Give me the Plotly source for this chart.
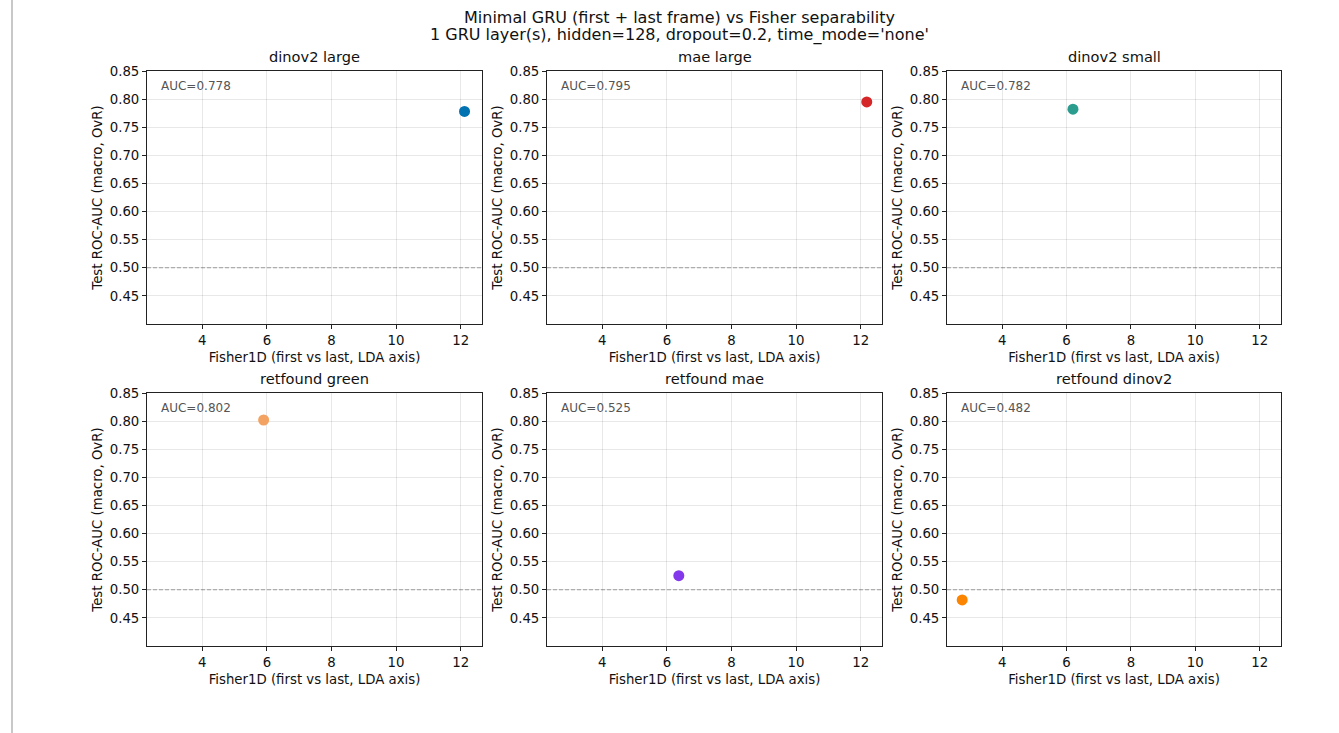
import plotly.graph_objects as go

# ---- data ----
models = ["dinov2 large", "mae large", "dinov2 small", "retfound green", "retfound mae", "retfound dinov2"]
fisher1d = [12.12, 12.19, 6.20, 5.90, 6.37, 2.76]
test_auc = [0.778, 0.795, 0.782, 0.802, 0.525, 0.482]
colors = ["#0072B2", "#D62728", "#2A9D8F", "#F4A261", "#8338EC", "#FB8500"]
x_ticks = [4, 6, 8, 10, 12]
y_ticks = [0.45, 0.50, 0.55, 0.60, 0.65, 0.70, 0.75, 0.80, 0.85]
suptitle_lines = ["Minimal GRU (first + last frame) vs Fisher separability",
                  "1 GRU layer(s), hidden=128, dropout=0.2, time_mode='none'"]

W, H = 1339, 733
FONT = "DejaVu Sans"

# axes boxes in pixels (left, right, top, bottom)
cols = [(147, 482), (547, 882), (947, 1281)]
rows = [(71, 324), (393, 646)]

span = max(fisher1d) - min(fisher1d)
xr = [min(fisher1d) - 0.05 * span, max(fisher1d) + 0.05 * span]
yr = [0.40, 0.85]

fig = go.Figure()
annotations = []
shapes = []

for i, name in enumerate(models):
    r, c = divmod(i, 3)
    x0, x1 = cols[c]
    t, b = rows[r]
    xa = "xaxis" if i == 0 else f"xaxis{i+1}"
    ya = "yaxis" if i == 0 else f"yaxis{i+1}"
    xref = "x" if i == 0 else f"x{i+1}"
    yref = "y" if i == 0 else f"y{i+1}"

    fig.add_trace(go.Scatter(
        x=[fisher1d[i]], y=[test_auc[i]], mode="markers",
        marker=dict(color=colors[i], size=11, line=dict(width=0)),
        xaxis=xref, yaxis=yref, showlegend=False, name=name,
    ))

    common = dict(
        showline=True, linecolor="#222", linewidth=1, mirror=True,
        ticks="outside", ticklen=4, tickwidth=1, tickcolor="#222",
        showgrid=True, gridcolor="rgba(0,0,0,0.09)", gridwidth=1,
        zeroline=False, automargin=False,
        tickfont=dict(family=FONT, size=13.3, color="#111"),
    )
    fig.update_layout({
        xa: dict(common, domain=[x0 / W, x1 / W], anchor=yref, range=xr,
                 tickvals=x_ticks, ticktext=[str(v) for v in x_ticks],
                 title=dict(text="Fisher1D (first vs last, LDA axis)",
                            font=dict(family=FONT, size=13.3, color="#111"), standoff=5)),
        ya: dict(common, domain=[1 - b / H, 1 - t / H], anchor=xref, range=yr,
                 tickvals=y_ticks, ticktext=[f"{v:.2f}" for v in y_ticks],
                 title=dict(text="Test ROC-AUC (macro, OvR)",
                            font=dict(family=FONT, size=13.3, color="#111"), standoff=4)),
    })

    # dashed chance line
    shapes.append(dict(type="line", xref=f"{xref} domain", yref=yref,
                       x0=0, x1=1, y0=0.5, y1=0.5,
                       line=dict(color="#aaaaaa", width=1, dash="4px,2px"), layer="below"))

    # AUC text
    annotations.append(dict(text=f"AUC={test_auc[i]:.3f}", xref=f"{xref} domain", yref=f"{yref} domain",
                            x=0.035, y=0.975, xanchor="left", yanchor="top", showarrow=False,
                            font=dict(family=FONT, size=12, color="#555")))
    # subplot title
    annotations.append(dict(text=name, xref="paper", yref="paper",
                            x=(x0 + x1) / 2 / W, y=1 - (t - 4) / H, xanchor="center", yanchor="bottom",
                            showarrow=False, font=dict(family=FONT, size=14.6, color="#111")))

# suptitle (two lines)
for k, line in enumerate(suptitle_lines):
    annotations.append(dict(
        text=line, xref="paper", yref="paper", x=680 / W, y=1 - (18 + 17 * k) / H,
        xanchor="center", yanchor="middle",
        showarrow=False, font=dict(family=FONT, size=16, color="#111")))

# notebook-style left border line
shapes.append(dict(type="line", xref="paper", yref="paper", x0=12 / W, x1=12 / W, y0=0, y1=1,
                   line=dict(color="#c8c8c8", width=2)))

fig.update_layout(
    width=W, height=H, margin=dict(l=0, r=0, t=0, b=0, autoexpand=False),
    paper_bgcolor="white", plot_bgcolor="white",
    annotations=annotations, shapes=shapes,
    font=dict(family=FONT, color="#111"),
)

fig.write_html("out.html")
